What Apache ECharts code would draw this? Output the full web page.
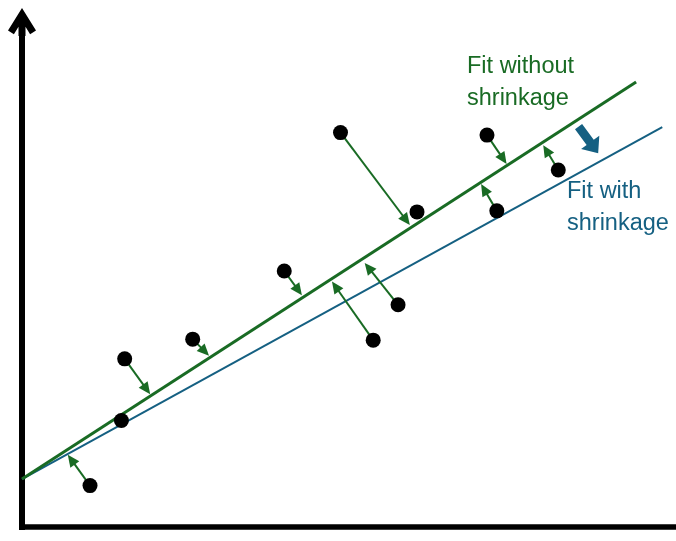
<!DOCTYPE html>
<html>
<head>
<meta charset="utf-8">
<script src="https://cdn.jsdelivr.net/npm/echarts@6/dist/echarts.min.js"></script>
<style>
html,body{margin:0;padding:0;background:#fff;}
#chart{width:676px;height:541px;}
</style>
</head>
<body>
<div id="chart"></div>
<script>
// ---- data (abstract units: x 0..100, y 0..100) ----
var pointX = [10.4, 15.2, 15.7, 26.1, 40.1, 48.7, 60.4, 53.7, 57.5, 71.1, 72.6, 82.0];
var pointY = [8.2, 21.1, 33.3, 37.2, 50.7, 78.1, 62.4, 37.0, 44.0, 77.6, 62.6, 70.7];

// residual arrows: from a point to the unshrunk fit line
var arrowFromX = [10.4, 15.7, 26.1, 40.1, 48.7, 53.7, 57.5, 71.1, 72.6, 82.0];
var arrowFromY = [8.2, 33.3, 37.2, 50.7, 78.1, 37.0, 44.0, 77.6, 62.6, 70.7];
var arrowToX   = [7.0, 19.6, 28.6, 42.8, 59.3, 47.4, 52.4, 74.1, 70.2, 79.7];
var arrowToY   = [14.3, 26.3, 33.9, 45.9, 59.8, 48.6, 52.3, 71.9, 67.9, 75.6];

// fit lines (start / end)
var fitNoShrinkX = [0, 93.9];
var fitNoShrinkY = [9.5, 88.1];
var fitShrinkX = [0, 97.9];
var fitShrinkY = [9.5, 79.2];

// shrink direction arrow (tail -> tip)
var shrinkArrowX = [85.1, 88.1];
var shrinkArrowY = [79.3, 74.0];

var labelNoShrink = 'Fit without\nshrinkage';
var labelShrink = 'Fit with\nshrinkage';

// ---- styles ----
var GREEN = '#196B24';
var BLUE = '#156082';

function zip(xs, ys) { return xs.map(function (x, i) { return [x, ys[i]]; }); }

var arrowData = arrowFromX.map(function (x, i) {
  return [x, arrowFromY[i], arrowToX[i], arrowToY[i]];
});

function renderSmallArrow(params, api) {
  var p1 = api.coord([api.value(0), api.value(1)]);
  var p2 = api.coord([api.value(2), api.value(3)]);
  var dx = p2[0] - p1[0], dy = p2[1] - p1[1];
  var len = Math.sqrt(dx * dx + dy * dy);
  var ux = dx / len, uy = dy / len;
  var nx = -uy, ny = ux;
  var L = 12, W = 5.5;
  var bx = p2[0] - ux * L, by = p2[1] - uy * L;
  return {
    type: 'group',
    children: [
      { type: 'line', shape: { x1: p1[0], y1: p1[1], x2: bx + ux * 2, y2: by + uy * 2 },
        style: { stroke: GREEN, lineWidth: 2 } },
      { type: 'polygon', shape: { points: [[p2[0], p2[1]], [bx + nx * W, by + ny * W], [bx - nx * W, by - ny * W]] },
        style: { fill: GREEN } }
    ]
  };
}

function renderBlockArrow(params, api) {
  var p1 = api.coord([api.value(0), api.value(1)]);
  var p2 = api.coord([api.value(2), api.value(3)]);
  var dx = p2[0] - p1[0], dy = p2[1] - p1[1];
  var len = Math.sqrt(dx * dx + dy * dy);
  var ux = dx / len, uy = dy / len;
  var nx = -uy, ny = ux;
  var HL = 13.5, HW = 11.3, SW = 4.4;
  var bx = p2[0] - ux * HL, by = p2[1] - uy * HL;
  var pts = [
    [p1[0] + nx * SW, p1[1] + ny * SW],
    [bx + nx * SW, by + ny * SW],
    [bx + nx * HW, by + ny * HW],
    [p2[0], p2[1]],
    [bx - nx * HW, by - ny * HW],
    [bx - nx * SW, by - ny * SW],
    [p1[0] - nx * SW, p1[1] - ny * SW]
  ];
  return { type: 'polygon', shape: { points: pts }, style: { fill: BLUE } };
}

var chart = echarts.init(document.getElementById('chart'), null, { renderer: 'canvas' });

var chevron = 'path://M14 0 L28 22.5 L22.1 26.2 L17.5 18.8 L17.5 28 L10.5 28 L10.5 18.8 L5.9 26.2 L0 22.5 Z';

var option = {
  animation: false,
  backgroundColor: '#ffffff',
  grid: { left: 22, right: 0, top: 22, bottom: 14, containLabel: false, outerBoundsMode: 'none' },
  xAxis: {
    type: 'value', min: 0, max: 100,
    axisLine: { show: true, onZero: false, lineStyle: { color: '#000', width: 5.5, cap: 'square' } },
    axisTick: { show: false }, axisLabel: { show: false }, splitLine: { show: false }
  },
  yAxis: {
    type: 'value', min: 0, max: 100,
    axisLine: { show: true, onZero: false, symbol: ['none', chevron], symbolSize: [28, 28],
      lineStyle: { color: '#000', width: 6, cap: 'square' } },
    axisTick: { show: false }, axisLabel: { show: false }, splitLine: { show: false }
  },
  series: [
    { type: 'line', data: zip(fitShrinkX, fitShrinkY), symbol: 'none',
      lineStyle: { color: BLUE, width: 2 }, z: 2, silent: true },
    { type: 'line', data: zip(fitNoShrinkX, fitNoShrinkY), symbol: 'none',
      lineStyle: { color: GREEN, width: 3 }, z: 3, silent: true },
    { type: 'custom', data: arrowData, renderItem: renderSmallArrow,
      encode: { x: [0, 2], y: [1, 3] }, z: 4, silent: true },
    { type: 'custom', data: [[shrinkArrowX[0], shrinkArrowY[0], shrinkArrowX[1], shrinkArrowY[1]]],
      renderItem: renderBlockArrow, encode: { x: [0, 2], y: [1, 3] }, z: 4, silent: true },
    { type: 'scatter', data: zip(pointX, pointY), symbol: 'circle', symbolSize: 15,
      itemStyle: { color: '#000', opacity: 1 }, z: 5, silent: true }
  ],
  graphic: [
    { type: 'text', left: 467, top: 51, z: 10,
      style: { text: labelNoShrink, fill: GREEN, font: '23.5px "Liberation Sans", Arial, sans-serif', lineHeight: 31.5 } },
    { type: 'text', left: 567, top: 176, z: 10,
      style: { text: labelShrink, fill: BLUE, font: '23.5px "Liberation Sans", Arial, sans-serif', lineHeight: 31.5 } }
  ]
};
chart.setOption(option);
</script>
</body>
</html>
